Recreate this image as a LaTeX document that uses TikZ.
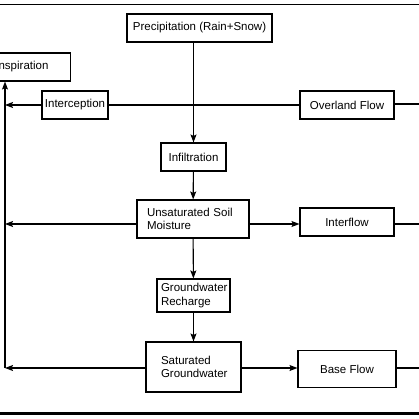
\documentclass[tikz,border=0pt]{standalone}
\usepackage{fontspec}
\setmainfont{Liberation Sans}
\usetikzlibrary{arrows.meta}
\begin{document}
\begin{tikzpicture}[x=1pt,y=-1pt,
  box/.style={draw, line width=1.1pt, inner sep=0pt, font=\fontsize{11.5}{13.5}\selectfont},
  arr/.style={line width=1.1pt, -{Stealth[length=8pt,width=6pt,inset=1.5pt]}},
  ln/.style={line width=1.1pt}]
\useasboundingbox (0,0) rectangle (419,419);
\draw[line width=1pt] (0,4.7) -- (419,4.7);
\draw[line width=3pt] (0,413.5) -- (419,413.5);

\node[box, minimum width=145pt, minimum height=28pt] (precip) at (199.5,28) {Precipitation (Rain+Snow)};
\node[box, anchor=east, minimum height=28pt, inner xsep=22pt] (evap) at (71,67) {Evapotranspiration};
\node[box, minimum width=66pt, minimum height=28pt] (intc) at (75,105) {Interception};
\node[box, minimum width=94pt, minimum height=28pt] (over) at (347,105) {Overland Flow};
\node[box, minimum width=65pt, minimum height=28pt] (infil) at (193.5,157) {Infiltration};
\node[box, minimum height=38pt, inner xsep=10pt, text width=92pt, align=left] (unsat) at (193,219) {Unsaturated Soil\\Moisture};
\node[box, minimum width=94pt, minimum height=28pt] (inter) at (347,222) {Interflow};
\node[box, minimum height=33pt, inner xsep=4pt, text width=65pt, align=left] (gwr) at (193.5,295.5) {Groundwater\\Recharge};
\node[box, minimum height=50pt, inner xsep=15pt, text width=65pt, align=left] (sat) at (193.5,367) {Saturated\\Groundwater};
\node[box, minimum width=98pt, minimum height=37pt] (base) at (347,369) {Base Flow};

\coordinate (li) at (5,105);
\coordinate (lu) at (5,224);
\coordinate (ls) at (5,368);
\coordinate (ro) at (419,104);
\coordinate (ri) at (419,224);
\coordinate (rb) at (419,368);

\draw[arr] (precip.south -| infil.north) -- (infil.north);
\draw[arr] (infil) -- (unsat);
\draw[arr] (unsat) -- (gwr);
\draw[arr] (gwr) -- (sat);
\draw[ln] (intc.east) -- (over.west);
\draw[ln] (over.east |- ro) -- (ro);
\draw[arr] (intc.west) -- (li);
\draw[arr] (unsat.west |- lu) -- (lu);
\draw[arr] (unsat.east |- lu) -- (inter.west |- lu);
\draw[ln] (inter.east |- ri) -- (ri);
\draw[arr] (sat.west |- ls) -- (ls);
\draw[arr] (sat.east |- ls) -- (base.west |- ls);
\draw[ln] (base.east |- rb) -- (rb);
\draw[arr] (ls) -- (evap.south -| ls);
\end{tikzpicture}
\end{document}
